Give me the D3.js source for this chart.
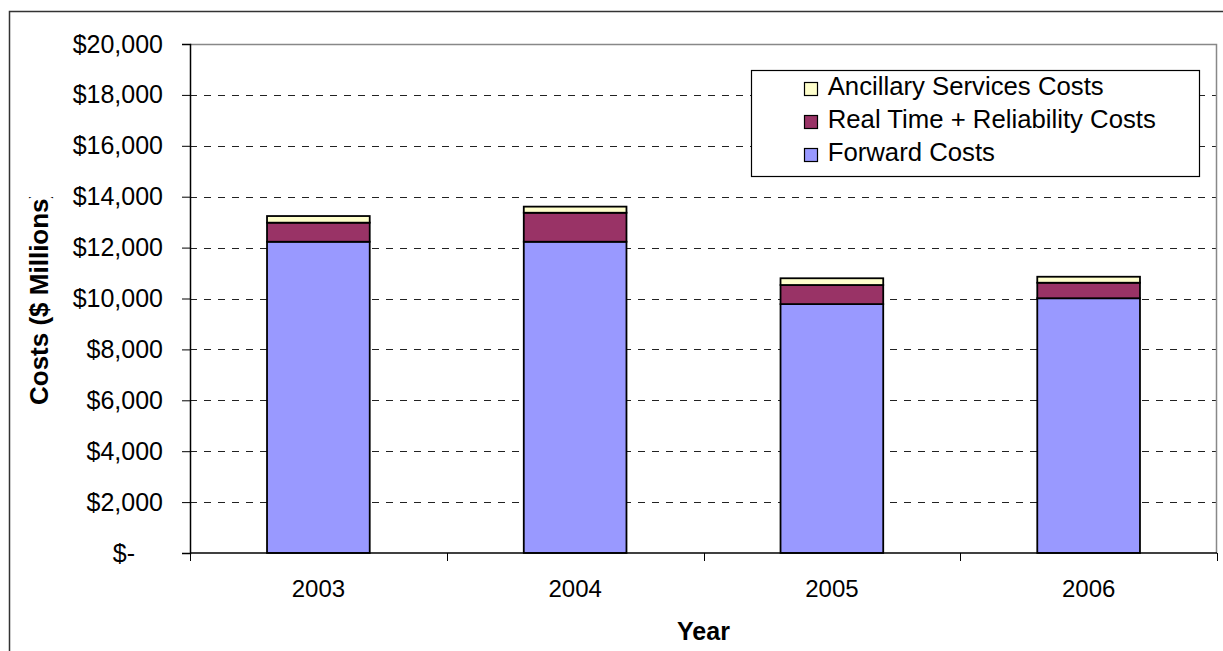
<!DOCTYPE html>
<html>
<head>
<meta charset="utf-8">
<script src="https://cdn.jsdelivr.net/npm/d3@7"></script>
<style>
  body { margin: 0; background: #fff; }
  svg { display: block; }
  text { font-family: "Liberation Sans", Arial, Helvetica, sans-serif; fill: #000; }
</style>
</head>
<body>
<svg id="chart" width="1223" height="651"></svg>
<script>
// Annual market costs, $ millions
const years = ["2003", "2004", "2005", "2006"];
const forwardCosts = [12230, 12230, 9780, 10010];
const realTimeReliabilityCosts = [750, 1140, 750, 610];
const ancillaryServicesCosts = [260, 240, 265, 235];

const seriesKeys = ["forward", "realtime", "ancillary"];
const seriesLabels = {
  forward: "Forward Costs",
  realtime: "Real Time + Reliability Costs",
  ancillary: "Ancillary Services Costs"
};
const seriesColors = {
  forward: "#9999FF",
  realtime: "#993366",
  ancillary: "#FFFFCC"
};
const legendOrder = ["ancillary", "realtime", "forward"];
const yTickValues = [0, 2000, 4000, 6000, 8000, 10000, 12000, 14000, 16000, 18000, 20000];

const rows = years.map((year, i) => ({
  year,
  forward: forwardCosts[i],
  realtime: realTimeReliabilityCosts[i],
  ancillary: ancillaryServicesCosts[i]
}));

const svg = d3.select("#chart");
const plot = { left: 190, right: 1217, top: 44, bottom: 553 };

// outer chart frame (runs past the right and bottom of the page)
svg.append("rect")
  .attr("x", 9.5).attr("y", 11.5)
  .attr("width", 1300).attr("height", 700)
  .attr("fill", "none").attr("stroke", "#333").attr("stroke-width", 1.5);

const x = d3.scaleBand()
  .domain(years)
  .range([plot.left, plot.right])
  .paddingInner(0.6)
  .paddingOuter(0.3);

const y = d3.scaleLinear()
  .domain([0, 20000])
  .range([plot.bottom, plot.top]);

// dashed gridlines
svg.append("g")
  .selectAll("line")
  .data(yTickValues.filter(v => v > 0 && v < 20000))
  .join("line")
  .attr("x1", plot.left).attr("x2", plot.right)
  .attr("y1", d => Math.round(y(d)) + 0.5).attr("y2", d => Math.round(y(d)) + 0.5)
  .attr("stroke", "#222").attr("stroke-width", 1)
  .attr("stroke-dasharray", "7,7");

// plot area frame on top and right
svg.append("path")
  .attr("d", `M${plot.left},${plot.top + 0.5}H${plot.right - 0.5}V${plot.bottom}`)
  .attr("fill", "none").attr("stroke", "#888").attr("stroke-width", 1.5);

// stacked bars
const stack = d3.stack().keys(seriesKeys);
const layers = stack(rows);

svg.append("g")
  .selectAll("g")
  .data(layers)
  .join("g")
  .attr("fill", d => seriesColors[d.key])
  .selectAll("rect")
  .data(d => d)
  .join("rect")
  .attr("x", d => x(d.data.year))
  .attr("width", x.bandwidth())
  .attr("y", d => y(d[1]))
  .attr("height", d => y(d[0]) - y(d[1]))
  .attr("stroke", "#000").attr("stroke-width", 1.8);

// y axis
const fmt = d3.format(",");
const yAxis = svg.append("g")
  .attr("transform", `translate(${plot.left},0)`)
  .call(d3.axisLeft(y)
    .tickValues(yTickValues)
    .tickSize(8)
    .tickPadding(19)
    .tickFormat(v => v === 0 ? "$-" : "$" + fmt(v)));
yAxis.select(".domain").attr("stroke", "#000").attr("stroke-width", 1.5);
yAxis.selectAll(".tick line").attr("stroke", "#000");
yAxis.selectAll(".tick text")
  .attr("font-size", 25)
  .attr("font-family", null)
  .attr("dx", v => v === 0 ? -28 : 0);

// x axis: labels under each band, tick marks between bands
const xAxis = svg.append("g")
  .attr("transform", `translate(0,${plot.bottom})`)
  .call(d3.axisBottom(x).tickSize(0).tickPadding(27));
xAxis.select(".domain").remove();
xAxis.selectAll(".tick text").attr("font-size", 24).attr("font-family", null);

const boundaries = d3.range(years.length + 1).map(i => plot.left + i * x.step());
svg.append("g")
  .selectAll("line")
  .data(boundaries)
  .join("line")
  .attr("x1", d => Math.round(d) + 0.5).attr("x2", d => Math.round(d) + 0.5)
  .attr("y1", plot.bottom).attr("y2", plot.bottom + 8)
  .attr("stroke", "#000");
svg.append("line")
  .attr("x1", plot.left).attr("x2", plot.right)
  .attr("y1", plot.bottom).attr("y2", plot.bottom)
  .attr("stroke", "#000").attr("stroke-width", 1.5);

// axis titles
svg.append("clipPath").attr("id", "ytitle-clip")
  .append("rect").attr("x", 0).attr("y", 197).attr("width", 100).attr("height", 454);
svg.append("g").attr("clip-path", "url(#ytitle-clip)")
  .append("text")
  .attr("transform", "translate(48,405) rotate(-90)")
  .attr("font-size", 26).attr("font-weight", "bold")
  .text("Costs ($ Millions)");

svg.append("text")
  .attr("x", (plot.left + plot.right) / 2).attr("y", 640)
  .attr("text-anchor", "middle")
  .attr("font-size", 25).attr("font-weight", "bold")
  .text("Year");

// legend
const legend = svg.append("g");
legend.append("rect")
  .attr("x", 751.5).attr("y", 70.5).attr("width", 448).attr("height", 106)
  .attr("fill", "#fff").attr("stroke", "#000").attr("stroke-width", 1.2);
const item = legend.selectAll("g.item")
  .data(legendOrder)
  .join("g").attr("class", "item")
  .attr("transform", (d, i) => `translate(804,${95 + i * 33})`);
item.append("rect")
  .attr("x", 0.5).attr("y", -12.5).attr("width", 13).attr("height", 13)
  .attr("fill", d => seriesColors[d]).attr("stroke", "#000").attr("stroke-width", 1.2);
item.append("text")
  .attr("x", 23).attr("y", 0)
  .attr("font-size", 25)
  .attr("transform", "scale(1.03,1)")
  .text(d => seriesLabels[d]);
</script>
</body>
</html>
